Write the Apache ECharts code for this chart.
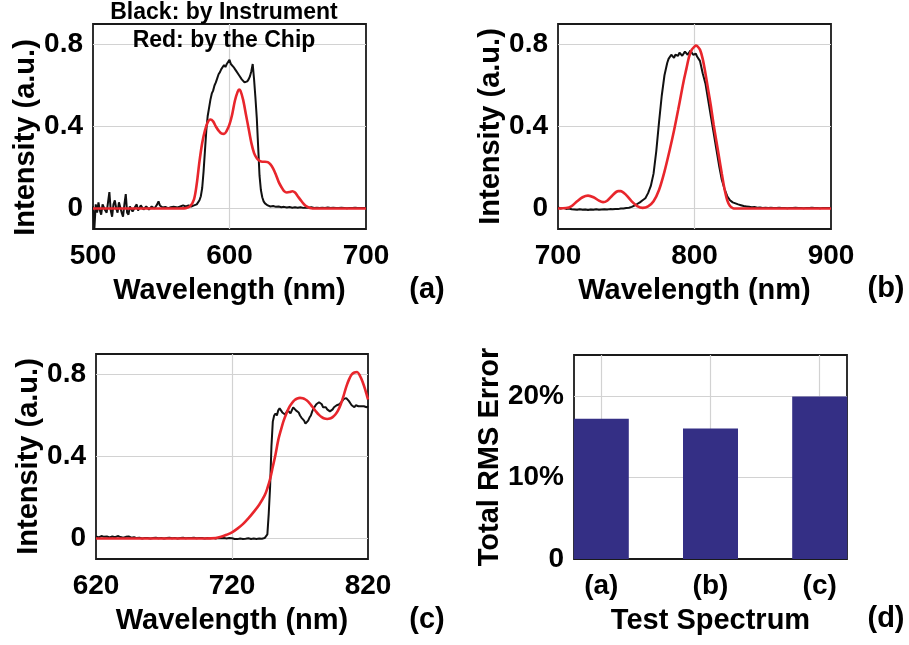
<!DOCTYPE html>
<html>
<head>
<meta charset="utf-8">
<script src="https://cdn.jsdelivr.net/npm/echarts@6/dist/echarts.min.js"></script>
<style>
html,body{margin:0;padding:0;background:#fff;}
#chart{width:909px;height:645px;}
</style>
</head>
<body>
<div id="chart"></div>
<script>
// ---------------- DATA ----------------
// Panel (a): test spectrum around 600 nm
const aBlack = [
  [500,0.01],[501,-0.10],[502,0.02],[503,-0.02],[504,0.03],[505,-0.01],[506,-0.03],[507,0.02],[508,0.02],[509,-0.01],
  [510,-0.02],[511,0.03],[512,0.08],[513,-0.01],[514,-0.04],[515,0.02],[516,0.04],[517,0.0],[518,-0.02],[519,0.03],
  [520,0.03],[521,-0.02],[522,-0.04],[523,0.02],[524,0.07],[525,-0.02],[526,-0.03],[527,0.01],[528,0.01],[529,-0.015],
  [530,-0.02],[531,0.01],[532,0.02],[533,-0.01],[534,-0.01],[535,0.015],[536,0.01],[537,-0.005],[538,-0.01],[539,0.01],
  [540,0.015],[541,-0.005],[542,0.0],[543,0.01],[544,0.005],[545,0.0],[546,0.01],[547,0.02],[548,0.035],[549,0.015],
  [550,0.01],[551,0.005],[552,0.0],[553,0.008],[554,0.005],[555,0.002],[556,0.0],[557,0.006],[558,0.005],[559,0.008],
  [560,0.01],[562,0.005],[564,0.01],[566,0.015],[568,0.01],[570,0.015],[572,0.01],[574,0.015],[576,0.02],[578,0.04],
  [579,0.06],[580,0.10],[581,0.18],[582,0.28],[583,0.38],[584,0.45],[585,0.49],[586,0.53],[587,0.56],[588,0.575],
  [589,0.60],[590,0.615],[591,0.635],[592,0.655],[593,0.665],[594,0.68],[595,0.675],[596,0.70],[597,0.69],[598,0.705],
  [599,0.71],[600,0.725],[601,0.705],[602,0.71],[603,0.69],[604,0.68],[605,0.67],[606,0.665],[607,0.65],[608,0.645],
  [609,0.63],[610,0.625],[611,0.615],[612,0.61],[613,0.62],[614,0.63],[615,0.645],[616,0.67],[617,0.705],[618,0.63],
  [619,0.54],[620,0.44],[621,0.30],[622,0.16],[623,0.09],[624,0.055],[625,0.035],[626,0.025],[627,0.018],[628,0.015],
  [630,0.01],[632,0.012],[634,0.008],[636,0.01],[638,0.006],[640,0.008],[642,0.005],[644,0.007],[646,0.004],[648,0.006],
  [650,0.004],[652,0.006],[654,0.003],[656,0.005],[658,0.004],[660,0.006],[662,0.003],[664,0.004],[666,0.002],[668,0.004],
  [670,0.003],[672,0.005],[674,0.002],[676,0.004],[678,0.003],[680,0.002],[682,0.004],[684,0.003],[686,0.001],[688,0.003],
  [690,0.002],[692,0.004],[694,0.002],[696,0.003],[698,0.002],[700,0.003]
];
const aRed = [
  [500,0],[520,0],[540,0],[560,0],[568,0.002],[571,0.01],[574,0.045],[576,0.12],[578,0.23],[580,0.32],
  [582,0.38],[584,0.42],[586,0.434],[588,0.425],[590,0.40],[592,0.38],[594,0.366],[596,0.364],[598,0.38],[600,0.41],
  [602,0.46],[604,0.527],[606,0.57],[607,0.58],[608,0.575],[610,0.53],[612,0.46],[614,0.39],[616,0.32],[618,0.27],
  [620,0.245],[622,0.233],[624,0.228],[626,0.228],[628,0.226],[630,0.215],[632,0.195],[634,0.165],[636,0.13],[638,0.105],
  [640,0.085],[642,0.078],[644,0.08],[646,0.084],[648,0.078],[650,0.06],[652,0.042],[654,0.025],[656,0.012],[658,0.005],
  [660,0.001],[662,0],[680,0],[700,0]
];

// Panel (b): test spectrum around 800 nm
const bBlack = [
  [700,0.005],[702,0.0],[704,0.003],[706,-0.002],[708,0.0],[710,-0.004],[712,-0.005],[714,-0.006],[716,-0.004],[718,-0.006],
  [720,-0.005],[722,-0.007],[724,-0.005],[726,-0.006],[728,-0.004],[730,-0.006],[732,-0.005],[734,-0.004],[736,-0.005],[738,-0.003],
  [740,-0.004],[742,-0.002],[744,-0.003],[746,0.0],[748,0.0],[750,0.002],[752,0.004],[754,0.008],[756,0.014],[758,0.022],
  [760,0.03],[762,0.04],[764,0.05],[766,0.075],[768,0.11],[770,0.17],[772,0.28],[774,0.42],[776,0.55],[778,0.65],
  [780,0.71],[781,0.73],[782,0.735],[783,0.75],[784,0.745],[785,0.735],[786,0.75],[787,0.755],[788,0.745],[789,0.76],
  [790,0.755],[791,0.745],[792,0.75],[793,0.765],[794,0.76],[795,0.75],[796,0.755],[797,0.77],[798,0.765],[799,0.75],
  [800,0.745],[801,0.755],[802,0.74],[803,0.73],[804,0.72],[806,0.66],[808,0.61],[810,0.53],[812,0.45],[814,0.37],
  [816,0.29],[818,0.21],[820,0.14],[822,0.095],[824,0.06],[826,0.04],[828,0.03],[830,0.025],[832,0.02],[834,0.016],
  [836,0.012],[838,0.01],[840,0.008],[842,0.006],[844,0.007],[846,0.004],[848,0.005],[850,0.003],[852,0.004],[854,0.002],
  [856,0.004],[858,0.003],[860,0.002],[862,0.004],[864,0.002],[866,0.003],[868,0.001],[870,0.003],[872,0.002],[874,0.004],
  [876,0.002],[878,0.003],[880,0.001],[882,0.003],[884,0.002],[886,0.004],[888,0.002],[890,0.003],[892,0.001],[894,0.003],
  [896,0.002],[898,0.003],[900,0.002]
];
const bRed = [
  [700,0],[706,0.002],[710,0.012],[714,0.035],[718,0.055],[722,0.063],[726,0.055],[730,0.038],[733,0.031],[736,0.038],
  [740,0.065],[744,0.085],[746,0.085],[750,0.065],[754,0.035],[758,0.012],[762,0.003],[766,0.01],[770,0.035],[774,0.09],
  [778,0.18],[782,0.29],[785,0.38],[788,0.48],[790,0.55],[792,0.62],[794,0.68],[796,0.74],[798,0.775],[800,0.79],
  [801,0.795],[802,0.792],[804,0.775],[806,0.73],[808,0.66],[810,0.58],[812,0.50],[814,0.41],[816,0.33],[818,0.25],
  [820,0.17],[822,0.095],[824,0.04],[826,0.012],[828,0.002],[830,0],[850,0],[870,0],[900,0]
];

// Panel (c): long-pass test spectrum
const cBlack = [
  [620,0.01],[622,0.005],[624,0.012],[626,0.008],[628,0.01],[630,0.005],[632,0.01],[634,0.006],[636,0.012],[638,0.007],
  [640,0.004],[642,0.008],[644,0.01],[646,0.004],[648,0.006],[650,0.002],[652,0.004],[654,0.0],[656,0.003],[658,0.002],
  [660,0.0],[662,0.002],[664,0.004],[666,0.001],[668,0.003],[670,0.0],[672,0.002],[674,0.004],[676,0.001],[678,0.003],
  [680,0.0],[682,0.002],[684,0.004],[686,0.001],[688,0.003],[690,0.002],[692,0.004],[694,0.001],[696,0.003],[698,0.002],
  [700,0.0],[702,0.002],[704,0.001],[706,0.003],[708,0.0],[710,0.002],[712,0.001],[714,0.002],[716,0.0],[718,0.002],
  [720,0.001],[722,-0.002],[724,-0.003],[726,0.0],[728,-0.002],[730,-0.001],[732,0.001],[734,-0.002],[736,0.0],[738,-0.002],
  [740,0.0],[742,-0.001],[744,0.002],[746,0.02],[747,0.12],[748,0.25],[749,0.45],[750,0.57],[751,0.6],[752,0.61],
  [753,0.6],[754,0.625],[755,0.635],[756,0.63],[757,0.615],[758,0.62],[759,0.605],[760,0.615],[761,0.625],[762,0.62],
  [763,0.61],[764,0.625],[765,0.64],[766,0.635],[767,0.625],[768,0.63],[769,0.615],[770,0.60],[771,0.59],[772,0.585],
  [773,0.575],[774,0.56],[775,0.555],[776,0.575],[777,0.59],[778,0.60],[779,0.62],[780,0.635],[781,0.64],[782,0.655],
  [783,0.66],[784,0.665],[785,0.66],[786,0.655],[787,0.64],[788,0.635],[789,0.64],[790,0.63],[791,0.625],[792,0.62],
  [793,0.625],[794,0.63],[795,0.64],[796,0.64],[797,0.65],[798,0.645],[799,0.655],[800,0.66],[801,0.67],[802,0.68],
  [803,0.675],[804,0.685],[805,0.68],[806,0.67],[807,0.66],[808,0.65],[809,0.645],[810,0.64],[811,0.65],[812,0.655],
  [813,0.645],[814,0.65],[815,0.645],[816,0.64],[817,0.645],[818,0.645],[819,0.64],[820,0.645]
];
const cRed = [
  [620,0],[660,0],[700,0],[708,0.002],[712,0.008],[716,0.018],[720,0.03],[724,0.048],[728,0.07],[732,0.098],
  [736,0.13],[740,0.165],[744,0.21],[746,0.245],[748,0.29],[750,0.35],[752,0.41],[754,0.48],[756,0.53],[758,0.575],
  [760,0.61],[762,0.64],[764,0.66],[766,0.675],[768,0.683],[770,0.686],[772,0.684],[774,0.678],[776,0.668],[778,0.652],
  [780,0.635],[782,0.618],[784,0.603],[786,0.592],[788,0.585],[790,0.583],[792,0.585],[794,0.592],[796,0.605],[798,0.625],
  [800,0.655],[802,0.695],[804,0.74],[806,0.775],[808,0.80],[810,0.81],[812,0.812],[814,0.795],[816,0.765],[818,0.725],
  [820,0.678]
];

// Panel (d): total RMS error per test spectrum
const dCategories = ['(a)', '(b)', '(c)'];
const dPositions = [1, 2, 3];
const dErrorPct = [17.2, 16.0, 19.9];

// Tick labels
const aXTicks = [500, 600, 700];
const bXTicks = [700, 800, 900];
const cXTicks = [620, 720, 820];
const intensityTicks = [0, 0.4, 0.8];
const intensityTickText = ['0', '0.4', '0.8'];
const errTicks = [0, 10, 20];
const errTickText = ['0', '10%', '20%'];

// ---------------- STYLE ----------------
const FONT = 'Liberation Sans';
const GRID_C = '#d2d2d2';
const CLEAR = 'rgba(0,0,0,0)';
const BLACK_C = '#111111';
const RED_C = '#e8262c';
const BAR_C = '#342f85';

function near(a, b, tol) { return Math.abs(a - b) < tol; }
function splitColors(min, max, step, marks) {
  const n = Math.ceil((max - min) / step - 1e-9);
  const arr = [];
  for (let i = 0; i <= n; i++) {
    const v = Math.min(min + i * step, max);
    const isMark = i > 0 && i < n && marks.some(m => near(m, v, step / 100));
    arr.push(isMark ? GRID_C : CLEAR);
  }
  return arr;
}
function labelFn(vals, texts, tol) {
  return function (v) {
    for (let i = 0; i < vals.length; i++) if (near(vals[i], v, tol)) return texts[i];
    return '';
  };
}
const tickFont = { color: '#000', fontFamily: FONT, fontWeight: 'bold', fontSize: 28 };
const nameFont = { color: '#000', fontFamily: FONT, fontWeight: 'bold', fontSize: 29 };

function xAxisDef(gi, min, max, step, marks, texts, name) {
  return {
    type: 'value', gridIndex: gi, min: min, max: max, interval: step,
    axisLine: { show: false }, axisTick: { show: false },
    splitLine: { show: true, lineStyle: { color: splitColors(min, max, step, marks), width: 1.2 } },
    axisLabel: Object.assign({ margin: 13, formatter: labelFn(marks, texts, step / 100) }, tickFont),
    name: name, nameLocation: 'middle', nameGap: 47, nameTextStyle: nameFont
  };
}
function yAxisDef(gi, min, max, step, marks, texts, name, gap, pad) {
  return {
    type: 'value', gridIndex: gi, min: min, max: max, interval: step,
    axisLine: { show: false }, axisTick: { show: false },
    splitLine: { show: true, lineStyle: { color: splitColors(min, max, step, marks), width: 1.2 } },
    axisLabel: Object.assign({ margin: 10, formatter: labelFn(marks, texts, step / 100) }, tickFont),
    name: name, nameLocation: 'middle', nameGap: gap,
    nameTextStyle: Object.assign({ padding: pad || 0 }, nameFont)
  };
}
function lineSeries(xi, yi, data, color, width, smooth, z) {
  return {
    type: 'line', xAxisIndex: xi, yAxisIndex: yi, data: data,
    showSymbol: false, symbol: 'none', smooth: smooth, z: z,
    lineStyle: { color: color, width: width }, animation: false
  };
}

const gridBase = { show: true, borderColor: '#1a1a1a', borderWidth: 1.8, backgroundColor: '#fff', containLabel: false };
const panelFont = 'bold 29px "Liberation Sans"';
const noteFont = 'bold 23px "Liberation Sans"';

const option = {
  animation: false,
  backgroundColor: '#fff',
  textStyle: { fontFamily: FONT },
  grid: [
    Object.assign({ left: 93, top: 24, width: 273, height: 205 }, gridBase),
    Object.assign({ left: 558, top: 24, width: 273, height: 205 }, gridBase),
    Object.assign({ left: 96, top: 354, width: 272, height: 205 }, gridBase),
    Object.assign({ left: 574, top: 355, width: 273, height: 204 }, gridBase)
  ],
  xAxis: [
    xAxisDef(0, 500, 700, 100, aXTicks, aXTicks.map(String), 'Wavelength (nm)'),
    xAxisDef(1, 700, 900, 100, bXTicks, bXTicks.map(String), 'Wavelength (nm)'),
    xAxisDef(2, 620, 820, 20, cXTicks, cXTicks.map(String), 'Wavelength (nm)'),
    xAxisDef(3, 0.75, 3.25, 0.25, dPositions, dCategories, 'Test Spectrum')
  ],
  yAxis: [
    yAxisDef(0, -0.1, 0.9, 0.1, intensityTicks, intensityTickText, 'Intensity (a.u.)', 52, [0, 22, 0, 0]),
    yAxisDef(1, -0.1, 0.9, 0.1, intensityTicks, intensityTickText, 'Intensity (a.u.)', 52),
    yAxisDef(2, -0.1, 0.9, 0.1, intensityTicks, intensityTickText, 'Intensity (a.u.)', 52),
    yAxisDef(3, 0, 25, 10, errTicks, errTickText, 'Total RMS Error', 66)
  ],
  series: [
    lineSeries(0, 0, aBlack, BLACK_C, 2, false, 3),
    lineSeries(0, 0, aRed, RED_C, 2.6, 0.3, 4),
    lineSeries(1, 1, bBlack, BLACK_C, 2, false, 3),
    lineSeries(1, 1, bRed, RED_C, 2.6, 0.3, 4),
    lineSeries(2, 2, cBlack, BLACK_C, 2, false, 3),
    lineSeries(2, 2, cRed, RED_C, 2.6, 0.3, 4),
    {
      type: 'bar', xAxisIndex: 3, yAxisIndex: 3, barWidth: 55,
      data: dPositions.map((p, i) => [p, dErrorPct[i]]),
      itemStyle: { color: BAR_C }, animation: false
    }
  ],
  graphic: [
    { type: 'text', x: 224, y: 13, z: 10, style: { text: 'Black: by Instrument', fill: '#000', font: noteFont, align: 'center', verticalAlign: 'middle' } },
    { type: 'text', x: 224, y: 41, z: 10, style: { text: 'Red: by the Chip', fill: '#000', font: noteFont, align: 'center', verticalAlign: 'middle' } },
    { type: 'text', x: 427, y: 290, style: { text: '(a)', fill: '#000', font: panelFont, align: 'center', verticalAlign: 'middle' } },
    { type: 'text', x: 886, y: 289, style: { text: '(b)', fill: '#000', font: panelFont, align: 'center', verticalAlign: 'middle' } },
    { type: 'text', x: 427, y: 620, style: { text: '(c)', fill: '#000', font: panelFont, align: 'center', verticalAlign: 'middle' } },
    { type: 'text', x: 886, y: 619, style: { text: '(d)', fill: '#000', font: panelFont, align: 'center', verticalAlign: 'middle' } }
  ]
};

const chart = echarts.init(document.getElementById('chart'), null, { renderer: 'canvas' });
chart.setOption(option);
</script>
</body>
</html>
